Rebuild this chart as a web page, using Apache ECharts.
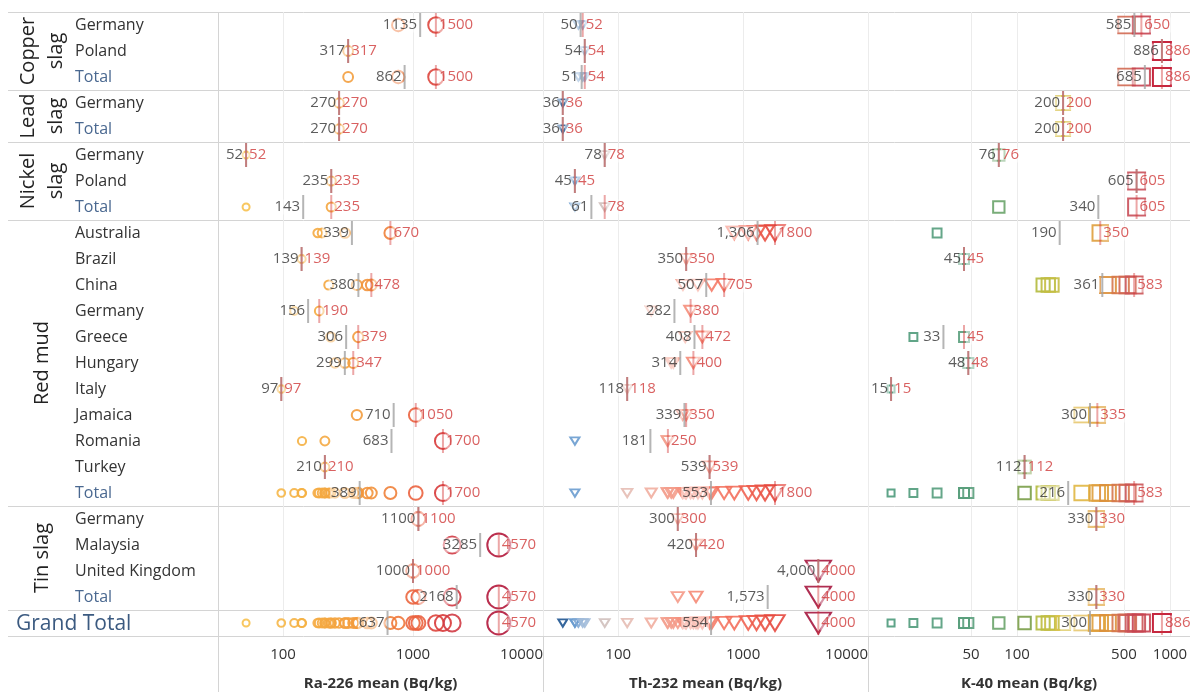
<!DOCTYPE html>
<html><head><meta charset="utf-8">
<script src="https://cdn.jsdelivr.net/npm/echarts@6/dist/echarts.min.js"></script>
<style>html,body{margin:0;padding:0;background:#fff}#c{width:1190px;height:692px}</style>
</head><body><div id="c"></div><script>
// ---------- DATA ----------
const groupNames = ['Copper\nslag', 'Lead\nslag', 'Nickel\nslag', 'Red mud', 'Tin slag', 'Grand Total'];
const groupSizes = [3, 2, 3, 11, 4, 1];
const rowLabels = ['Germany','Poland','Total','Germany','Total','Germany','Poland','Total',
  'Australia','Brazil','China','Germany','Greece','Hungary','Italy','Jamaica','Romania','Turkey','Total',
  'Germany','Malaysia','United Kingdom','Total','Grand Total'];

// individual sample values per country row (null = total row, built from country rows)
const raSamples = [[770,1500],[317],null,[270],null,[52],[235],null,
  [185,200,300,670],[139],[225,370,445,478],[122,190],[233,379],[251,299,347],[97],[370,1050],[140,210,1700],[210],null,
  [1100],[2000,4570],[1000],null,null];
const raMean = [1135,317,862,270,270,52,235,143,339,139,380,156,306,299,97,710,683,210,389,1100,3285,1000,2168,637];
const raMax  = [1500,317,1500,270,270,52,235,235,670,139,478,190,379,347,97,1050,1700,210,1700,1100,4570,1000,4570,4570];

const thSamples = [[48,52],[54],null,[36],null,[78],[45],null,
  [850,1100,1280,1500,1800],[350],[330,435,560,705],[184,380],[344,472],[266,276,400],[118],[328,350],[45,248,250],[539],null,
  [300],[420],[4000],null,null];
const thMean = [50,54,51,36,36,78,45,61,1306,350,507,282,408,314,118,339,181,539,553,300,420,4000,1573,554];
const thMax  = [52,54,54,36,36,78,45,78,1800,350,705,380,472,400,118,350,250,539,1800,300,420,4000,4000,4000];

const kSamples = [[520,650],[886],null,[200],null,[76],[605],null,
  [30,350],[45],[148,160,169,393,476,530,583],[],[21,45],[48],[15],[265,335],[],[112],null,
  [330],[],[],null,null];
const kMean = [585,886,685,200,200,76,605,340,190,45,361,null,33,48,15,300,null,112,216,330,null,null,330,300];
const kMax  = [650,886,886,200,200,76,605,605,350,45,583,null,45,48,15,335,null,112,583,330,null,null,330,886];

const axisTitles = ['Ra-226 mean (Bq/kg)', 'Th-232 mean (Bq/kg)', 'K-40 mean (Bq/kg)'];
const tickValues = [[100,1000,10000],[100,1000,10000],[50,100,500,1000]];

// ---------- STYLE / LAYOUT ----------
const FONT = '"Open Sans", sans-serif';
const TOP = 12, ROW_H = 26, NROWS = rowLabels.length;
const PANEL_LEFT = [218, 543, 868], PANEL_W = [325, 325, 322];
const AXIS_RANGE = [[31.62, 10000], [25, 10000], [10.6, 1352]];

const raStops = [[50,'#f7c24f'],[150,'#f5b043'],[400,'#f39a3c'],[700,'#f07f3a'],[1100,'#ea6040'],[1700,'#d83a3a'],[2200,'#cc3b4b'],[4570,'#b2183c']];
const thStops = [[36,'#1f5591'],[45,'#6a9ccf'],[52,'#9dbadb'],[78,'#d0c0bd'],[118,'#e6bdb4'],[190,'#f2ad9f'],[300,'#f59a88'],[500,'#f5806c'],[1000,'#f26a57'],[1800,'#e5483f'],[4000,'#a6173f']];
const kStops = [[15,'#4c9a7b'],[50,'#5a9e7c'],[76,'#6aa46a'],[112,'#7a9e48'],[150,'#b5bb3c'],[200,'#d8c24a'],[300,'#e3b23f'],[400,'#dc8e3c'],[500,'#d47050'],[600,'#c9505a'],[886,'#c0102a']];

function hex(h){return [parseInt(h.substr(1,2),16),parseInt(h.substr(3,2),16),parseInt(h.substr(5,2),16)];}
function colorFor(stops, v){
  if (v <= stops[0][0]) return stops[0][1];
  for (let i = 1; i < stops.length; i++) {
    if (v <= stops[i][0]) {
      const a = Math.log10(stops[i-1][0]), b = Math.log10(stops[i][0]);
      const t = (Math.log10(v) - a) / (b - a);
      const c1 = hex(stops[i-1][1]), c2 = hex(stops[i][1]);
      return 'rgb(' + c1.map((c,j)=>Math.round(c + (c2[j]-c)*t)).join(',') + ')';
    }
  }
  return stops[stops.length-1][1];
}

const panels = [
  {samples: raSamples, mean: raMean, max: raMax, stops: raStops, symbol: 'circle', rotate: 0, comma: false,
   size: v => { const s = 5.1 + 0.265*Math.sqrt(v); return [s, s]; }},
  {samples: thSamples, mean: thMean, max: thMax, stops: thStops, symbol: 'triangle', rotate: 180, comma: true,
   size: v => { const s = 6.5 + 0.262*Math.sqrt(v); return [s*1.1, s*0.9]; }},
  {samples: kSamples, mean: kMean, max: kMax, stops: kStops, symbol: 'rect', rotate: 0, comma: false,
   size: v => { const s = 7 + 11*(Math.log10(v) - Math.log10(15))/(Math.log10(886) - Math.log10(15)); return [s, s]; }}
];

// expand total rows from country rows
function expand(samples){
  const out = []; let start = 0;
  groupSizes.forEach(n => {
    for (let k = 0; k < n; k++) {
      const i = start + k;
      if (rowLabels[i] === 'Total') { let u = []; for (let j = start; j < i; j++) u = u.concat(samples[j] || []); out[i] = u; }
      else if (rowLabels[i] === 'Grand Total') { let u = []; for (let j = 0; j < i; j++) if (rowLabels[j] !== 'Total') u = u.concat(samples[j] || []); out[i] = u; }
      else out[i] = samples[i] || [];
    }
    start += n;
  });
  return out;
}

const rowKeys = rowLabels.map((r, i) => i + '|' + r);
const grids = [], xAxes = [], yAxes = [], series = [];
panels.forEach((P, k) => {
  grids.push({left: PANEL_LEFT[k], width: PANEL_W[k], top: TOP, height: ROW_H*NROWS, outerBoundsMode: 'none', containLabel: false});
  xAxes.push({
    type: 'log', logBase: 10, gridIndex: k, min: AXIS_RANGE[k][0], max: AXIS_RANGE[k][1],
    axisLine: {show: false},
    axisTick: {show: true, customValues: tickValues[k], length: 0, lineStyle: {color: 'rgba(0,0,0,0)'}},
    splitLine: {show: true, lineStyle: {color: '#ececec', width: 1}},
    minorTick: {show: false}, minorSplitLine: {show: false},
    axisLabel: {customValues: tickValues[k], formatter: v => String(Math.round(v)), fontSize: 15, color: '#333',
      fontFamily: FONT, margin: 11, alignMaxLabel: k < 2 ? 'right' : null},
    name: axisTitles[k], nameLocation: 'middle', nameGap: 40,
    nameTextStyle: {fontWeight: 'bold', fontSize: 15, color: '#333', fontFamily: FONT}
  });
  yAxes.push({
    type: 'category', gridIndex: k, data: rowKeys, inverse: true,
    axisLine: {show: false}, axisTick: {show: false}, splitLine: {show: false},
    axisLabel: k === 0 ? {
      show: true, interval: 0, margin: 143, align: 'left', fontSize: 16, color: '#333', fontFamily: FONT,
      formatter: (v, idx) => rowLabels[idx] === 'Total' ? '{t|Total}' : (rowLabels[idx] === 'Grand Total' ? '' : rowLabels[idx]),
      rich: {t: {color: '#4a6890', fontSize: 16, fontFamily: FONT}}
    } : {show: false}
  });
  const full = expand(P.samples);
  const pts = [];
  full.forEach((arr, i) => arr.forEach(v => pts.push({value: [v, i], itemStyle: {borderColor: colorFor(P.stops, v)}})));
  pts.sort((a, b) => a.value[0] - b.value[0]);
  series.push({
    type: 'scatter', xAxisIndex: k, yAxisIndex: k, z: 2, silent: true,
    symbol: P.symbol, symbolRotate: P.rotate, symbolSize: val => P.size(val[0]),
    itemStyle: {color: 'rgba(255,255,255,0)', borderWidth: 2, opacity: 0.9},
    data: pts
  });
  const fmt = v => P.comma ? v.toLocaleString('en-US') : String(v);
  series.push({
    type: 'scatter', xAxisIndex: k, yAxisIndex: k, z: 3, silent: true,
    symbol: 'rect', symbolSize: [2, 24], itemStyle: {color: '#a2a2a2'},
    label: {show: true, position: 'left', distance: 1, formatter: p => fmt(p.value[0]), color: '#333',
      fontSize: 15, fontFamily: FONT, backgroundColor: 'rgba(255,255,255,0.62)', padding: [0, 1]},
    data: P.mean.map((m, i) => m == null ? null : [m, i]).filter(d => d)
  });
  series.push({
    type: 'scatter', xAxisIndex: k, yAxisIndex: k, z: 4, silent: true,
    symbol: 'rect', symbolSize: [2, 24], itemStyle: {color: 'rgba(212,55,55,0.55)'},
    label: {show: true, position: 'right', distance: 1, formatter: p => String(p.value[0]), color: '#d0393a',
      fontSize: 15, fontFamily: FONT, backgroundColor: 'rgba(255,255,255,0.62)', padding: [0, 1]},
    data: P.max.map((m, i) => m == null ? null : [m, i]).filter(d => d)
  });
});

// separators and headers
const graphic = [];
const LINE = '#d4d4d4';
let b = 0;
const bounds = [0];
groupSizes.forEach(n => { b += n; bounds.push(b); });
bounds.forEach(r => {
  const y = TOP + r*ROW_H + 0.5;
  graphic.push({type: 'line', silent: true, shape: {x1: 8, y1: y, x2: 1190, y2: y}, style: {stroke: LINE, lineWidth: 1}});
});
PANEL_LEFT.forEach(x => {
  graphic.push({type: 'line', silent: true, shape: {x1: x + 0.5, y1: TOP, x2: x + 0.5, y2: 692}, style: {stroke: LINE, lineWidth: 1}});
});
groupNames.forEach((g, gi) => {
  const r0 = bounds[gi], r1 = bounds[gi+1];
  const cy = TOP + (r0 + r1) / 2 * ROW_H;
  if (g === 'Grand Total') {
    graphic.push({type: 'text', silent: true, x: 16, y: cy + 1, style: {text: g, font: '21px ' + FONT, fill: '#3b5a80', textAlign: 'left', textVerticalAlign: 'middle'}});
  } else {
    graphic.push({type: 'text', silent: true, x: 42, y: cy, rotation: Math.PI/2,
      style: {text: g, font: '20px ' + FONT, fill: '#222', textAlign: 'center', textVerticalAlign: 'middle', lineHeight: 28}});
  }
});

const chart = echarts.init(document.getElementById('c'), null, {renderer: 'canvas'});
chart.setOption({
  animation: false, backgroundColor: '#fff',
  grid: grids, xAxis: xAxes, yAxis: yAxes, series: series, graphic: graphic
});
</script></body></html>
